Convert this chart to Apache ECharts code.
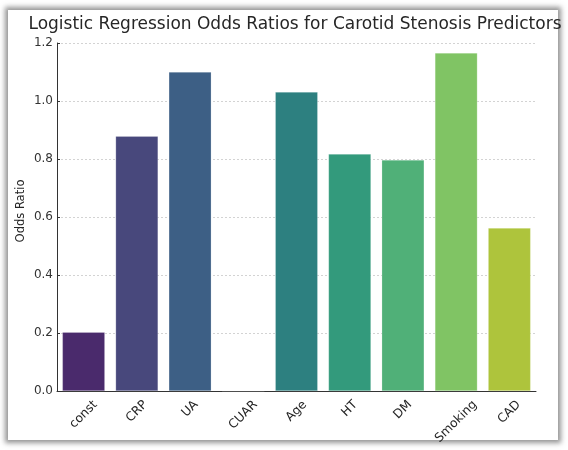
<!DOCTYPE html>
<html><head><meta charset="utf-8">
<script src="https://cdn.jsdelivr.net/npm/echarts@6/dist/echarts.min.js"></script>
<style>
html,body{margin:0;padding:0;background:#fff;}
#frame{position:absolute;left:8px;top:10px;width:550px;height:430px;background:#fff;box-shadow:0 0 5px 3px rgba(60,60,60,0.55);}
#chart{position:absolute;left:0;top:0;width:568px;height:450px;}
</style></head>
<body>
<div id="frame"></div>
<div id="chart"></div>
<script>
const categories = ["const","CRP","UA","CUAR","Age","HT","DM","Smoking","CAD"];
const oddsRatios = [0.203, 0.879, 1.100, 0.001, 1.031, 0.817, 0.797, 1.166, 0.562];
const barColors = ["#4a2a6c","#48487c","#3d5f85","#34757f","#2d8080","#339a7c","#50b078","#80c464","#aec43c"];
const yTicks = [0, 0.2, 0.4, 0.6, 0.8, 1.0, 1.2];

const font = 'DejaVu Sans';
const xFontSize = 12.3;
// matplotlib-like centered rotated labels: compute per-label padding
const ctx = document.createElement('canvas').getContext('2d');
ctx.font = xFontSize + 'px "' + font + '"';
const h = xFontSize * 1.1;
const topGap = 7; // px from axis line to top of rotated label box
const rich = {};
categories.forEach((c, i) => {
  const L = ctx.measureText(c).width;
  const S = topGap + (L + h) / (2 * Math.SQRT2);
  const P = Math.SQRT2 * S;
  rich['c' + i] = {padding: [P, P, 0, 0], fontFamily: font, fontSize: xFontSize, color: '#262626'};
});

const chart = echarts.init(document.getElementById('chart'), null, {renderer:'canvas'});
chart.setOption({
  backgroundColor: 'transparent',
  animation: false,
  title: {
    text: 'Logistic Regression Odds Ratios for Carotid Stenosis Predictors',
    left: 290, top: 11, textAlign: 'center',
    textStyle: {fontFamily: font, fontSize: 17, fontWeight: 'normal', color: '#262626'}
  },
  grid: {left: 57, right: 32, top: 43, bottom: 59},
  xAxis: {
    type: 'category', data: categories,
    axisLine: {lineStyle: {color: '#333', width: 1}},
    axisTick: {inside: true, alignWithLabel: true, length: 3, lineStyle: {color: '#333'}},
    axisLabel: {rotate: 45, interval: 0, margin: 0, align: 'center', verticalAlign: 'middle',
      formatter: (v, i) => '{c' + i + '|' + v + '}', rich: rich,
      fontFamily: font, fontSize: xFontSize, color: '#262626'}
  },
  yAxis: {
    type: 'value', min: 0, max: 1.2, interval: 0.2,
    name: 'Odds Ratio', nameLocation: 'middle', nameGap: 30, nameMoveOverlap: false,
    nameTextStyle: {fontFamily: font, fontSize: 11.5, color: '#262626', padding: [0, 0, 0, 12]},
    axisLine: {show: true, lineStyle: {color: '#333', width: 1}},
    axisTick: {show: true, inside: true, length: 3, lineStyle: {color: '#333'}},
    axisLabel: {fontFamily: font, fontSize: 12, color: '#333', margin: 4,
      formatter: v => yTicks.includes(Math.round(v*10)/10) ? v.toFixed(1) : ''},
    splitLine: {show: true, lineStyle: {color: '#c8c8c8', type: [2, 2], width: 0.8}}
  },
  series: [{
    type: 'bar', barCategoryGap: '20%',
    data: oddsRatios.map((v, i) => ({value: v, itemStyle: {color: barColors[i]}})),
    itemStyle: {borderColor: 'rgba(255,255,255,0.35)', borderWidth: 0.6}
  }]
});
</script>
</body></html>
